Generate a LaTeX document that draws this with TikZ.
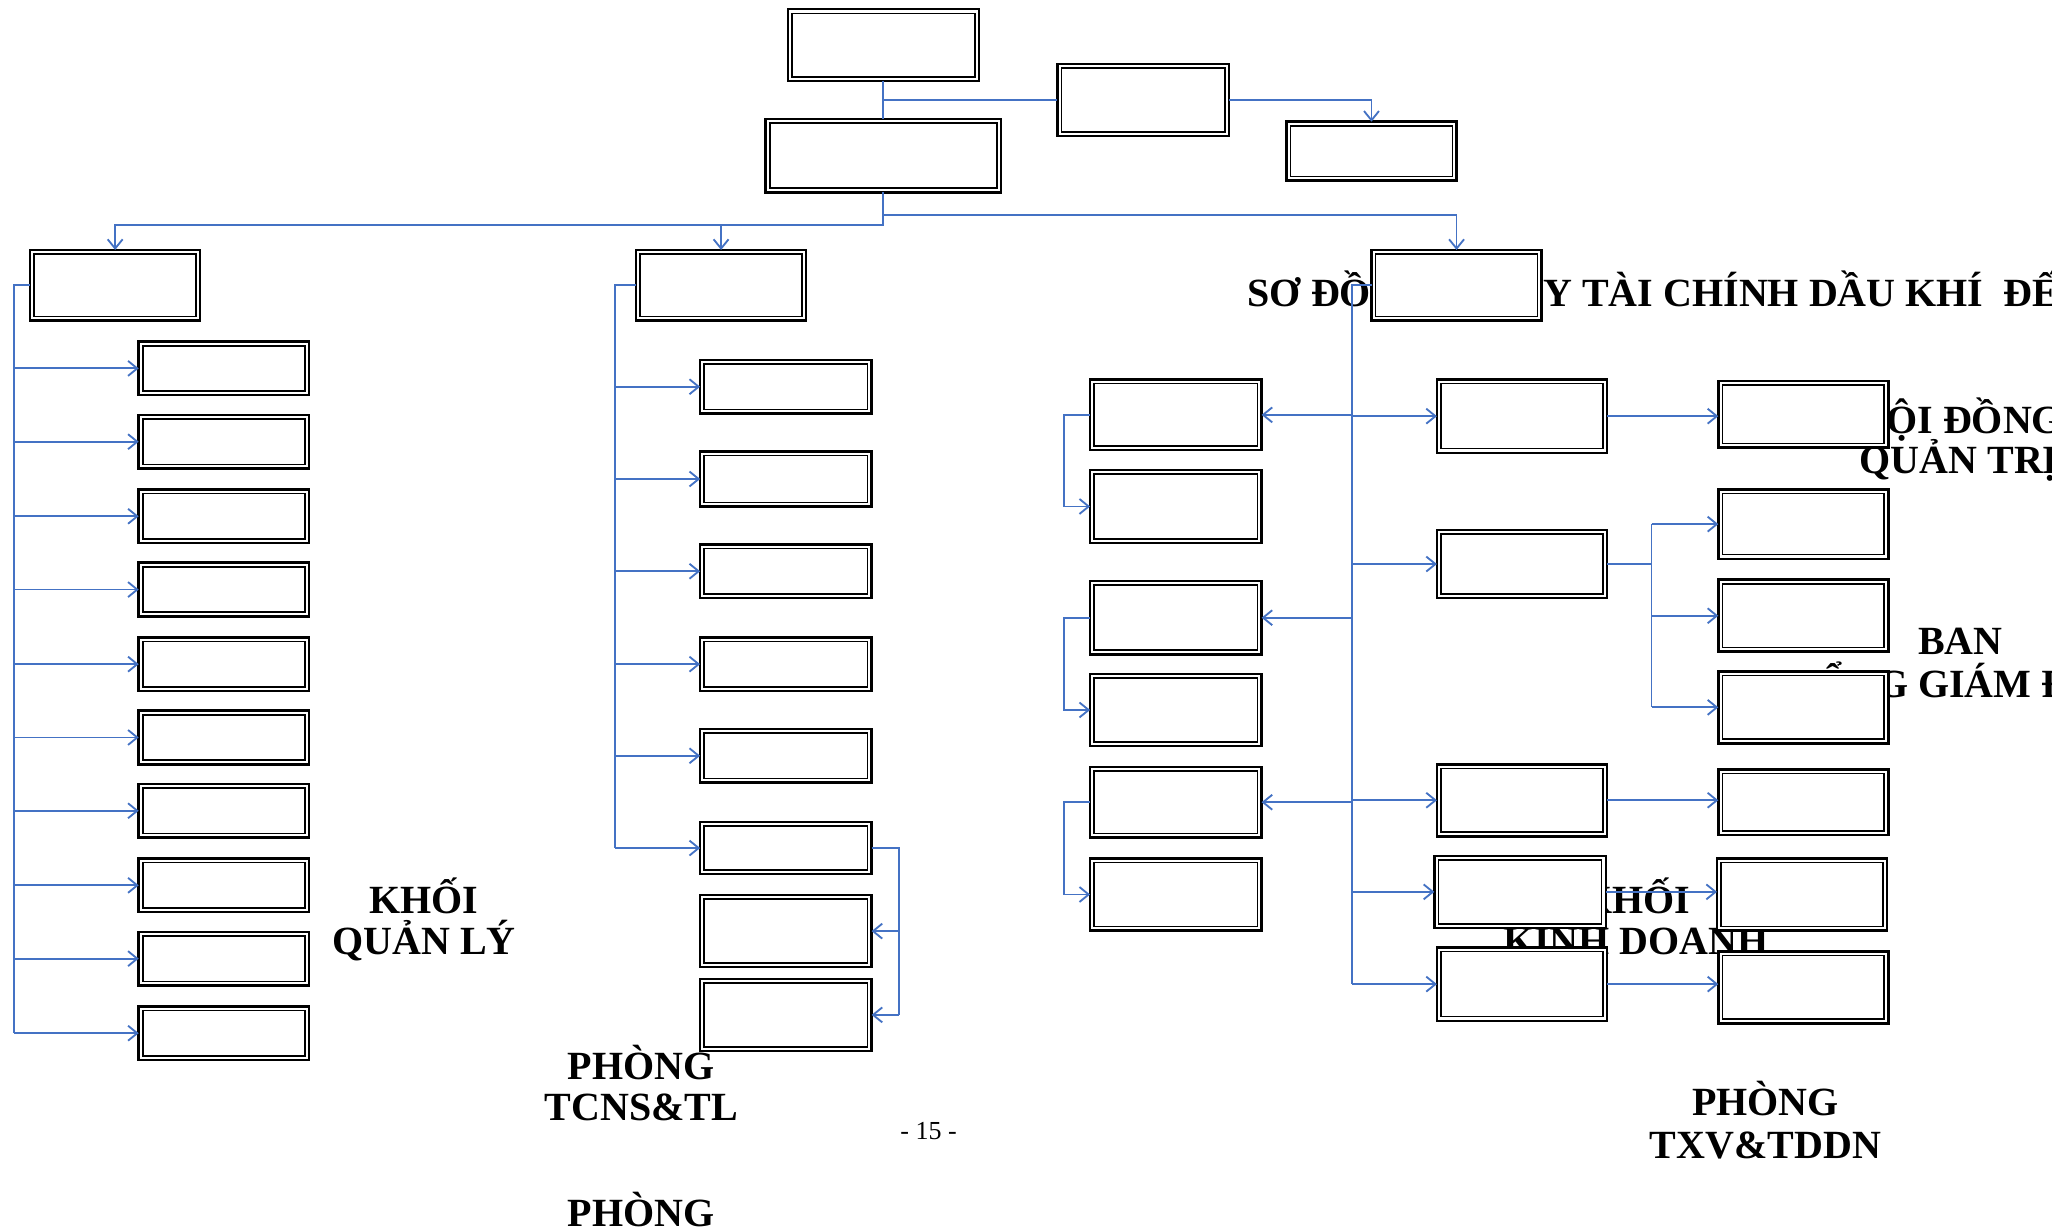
\documentclass[tikz,border=0pt]{standalone}
\usepackage{fontspec}
\setmainfont{Liberation Serif}
\usetikzlibrary{arrows.meta,calc}
\definecolor{lnblue}{HTML}{4472C4}
\newcommand\dblbox[5]{%
  \node[dbox, minimum width={(#4-#2-2)*0.02cm}, minimum height={(#5-#3-2)*0.02cm}] (#1) at ({(#2+#4)/2},{(#3+#5)/2}) {};
  \draw[inbox] ([xshift=1.8pt,yshift=-1.8pt]#1.north west) rectangle ([xshift=-1.8pt,yshift=1.8pt]#1.south east);}
\begin{document}
\begin{tikzpicture}[x=0.02cm, y=-0.02cm,
 dbox/.style={rectangle, draw=black, fill=white, line width=1.1pt, inner sep=0pt, outer sep=0pt},
 inbox/.style={draw=black, line width=0.7pt},
 conn/.style={draw=lnblue, line width=0.8pt},
 arr/.style={-{Straight Barb[length=4pt,width=6.5pt]}},
 txt/.style={font=\fontsize{17.4}{20}\selectfont\bfseries, inner sep=0pt, anchor=base},
 pgno/.style={font=\fontsize{11.3}{13}\selectfont, inner sep=0pt, anchor=base}]
\fill[white] (0,0) rectangle (1568,941);
\useasboundingbox (0,0) rectangle (1568,941);

% ---- texts (drawn first, boxes cover them) ----
\node[txt] (t1a) at (324,698) {KHỐI};
\node[txt] (t1b) at (324,729) {QUẢN LÝ};
\node[txt] (t2a) at (490,825) {PHÒNG};
\node[txt] (t2b) at (490,856) {TCNS\&TL};
\node[pgno] (pg) at (709.5,871) {- 15 -};
\node[txt] (t3a) at (490,937) {PHÒNG};
\node[txt] (t4a) at (1349,852) {PHÒNG};
\node[txt] (t4b) at (1349,885) {TXV\&TDDN};
\node[txt] (t5a) at (1250,698) {KHỐI};
\node[txt] (t5b) at (1250,729) {KINH DOANH};
\node[txt] (t6a) at (1497,331) {HỘI ĐỒNG};
\node[txt] (t6b) at (1497,362) {QUẢN TRỊ};
\node[txt] (t7a) at (1498,500) {BAN};
\node[txt] (t7b) at (1498,533) {TỔNG GIÁM ĐỐC};
\node[txt, anchor=base west] (t8a) at (953,234) {SƠ ĐỒ};
\node[txt, anchor=base west] (t8b) at (1179,234) {Y TÀI CHÍNH DẦU KHÍ~~ĐẾN};

% ---- boxes ----
\dblbox{A}{601}{6}{749}{63}
\dblbox{B}{584}{90}{766}{148}
\dblbox{C}{807}{48}{940}{105}
\dblbox{D}{982}{92}{1114}{139}
\dblbox{E}{22}{190}{154}{246}
\dblbox{F}{485}{190}{617}{246}
\dblbox{G}{1047}{190}{1179}{246}
% left column
\dblbox{L1}{105}{260}{237}{303}
\dblbox{L2}{105}{316}{237}{359}
\dblbox{L3}{105}{373}{237}{416}
\dblbox{L4}{105}{429}{237}{472}
\dblbox{L5}{105}{486}{237}{529}
\dblbox{L6}{105}{542}{237}{585}
\dblbox{L7}{105}{598}{237}{641}
\dblbox{L8}{105}{655}{237}{698}
\dblbox{L9}{105}{711}{237}{754}
\dblbox{L10}{105}{768}{237}{811}
% middle column
\dblbox{M1}{534}{274}{667}{317}
\dblbox{M2}{534}{344}{667}{388}
\dblbox{M3}{534}{415}{667}{458}
\dblbox{M4}{534}{486}{667}{529}
\dblbox{M5}{534}{556}{667}{599}
\dblbox{M6}{534}{627}{667}{669}
\dblbox{M7}{534}{683}{667}{740}
\dblbox{M8}{534}{747}{667}{804}
% right part
\dblbox{H1}{832}{289}{965}{345}
\dblbox{H2}{832}{358}{965}{416}
\dblbox{H3}{832}{443}{965}{501}
\dblbox{H4}{832}{514}{965}{571}
\dblbox{H5}{832}{585}{965}{641}
\dblbox{H6}{832}{655}{965}{712}
\dblbox{I1}{1097}{289}{1229}{347}
\dblbox{I2}{1097}{404}{1229}{458}
\dblbox{I3}{1097}{583}{1229}{640}
\dblbox{I4}{1095}{653}{1228}{710}
\dblbox{I5}{1097}{723}{1229}{781}
\dblbox{J1}{1312}{290}{1444}{343}
\dblbox{J2}{1312}{373}{1444}{428}
\dblbox{J3}{1312}{442}{1444}{499}
\dblbox{J4}{1312}{512}{1444}{569}
\dblbox{J5}{1312}{587}{1444}{639}
\dblbox{J6}{1311}{655}{1443}{712}
\dblbox{J7}{1312}{726}{1444}{783}

% ---- connectors ----
\draw[conn] (A.south) -- (B.north);
\draw[conn] (A.south |- C.west) -- (C.west);
\draw[conn,arr] (C.east) -| (D.north);
\path (B.south) ++(0,25) coordinate (jl);
\path (B.south) ++(0,17) coordinate (jr);
\draw[conn,arr] (B.south) -- (jl) -| (E.north);
\draw[conn,arr] (jr) -| (G.north);
\draw[conn,arr] (jl -| F.north) -- (F.north);

% left trunk
\path (E.west) ++(-12,0) coordinate (tl);
\draw[conn] (E.west) -- (tl) -- (tl |- L10.west);
\foreach \i in {1,...,10} {\draw[conn,arr] (tl |- L\i.west) -- (L\i.west);}

% middle trunk
\path (F.west) ++(-16,0) coordinate (tm);
\draw[conn] (F.west) -- (tm) -- (tm |- M6.west);
\foreach \i in {1,...,6} {\draw[conn,arr] (tm |- M\i.west) -- (M\i.west);}
\path (M6.east) ++(21,0) coordinate (mr);
\draw[conn] (M6.east) -- (mr) -- (mr |- M8.east);
\draw[conn,arr] (mr |- M7.east) -- (M7.east);
\draw[conn,arr] (mr |- M8.east) -- (M8.east);

% right trunk
\path (G.west) ++(-15,0) coordinate (tr);
\draw[conn] (G.west) -- (tr) -- (tr |- I5.west);
\draw[conn,arr] (tr |- H1.east) -- (H1.east);
\draw[conn,arr] (tr |- I1.west) -- (I1.west);
\draw[conn,arr] (I1.east) -- (I1.east -| J1.west);
\draw[conn,arr] (tr |- I2.west) -- (I2.west);
\path (I2.east) ++(34,0) coordinate (ir);
\draw[conn] (I2.east) -- (ir);
\draw[conn] (ir |- J2.west) -- (ir |- J4.west);
\draw[conn,arr] (ir |- J2.west) -- (J2.west);
\draw[conn,arr] (ir |- J3.west) -- (J3.west);
\draw[conn,arr] (ir |- J4.west) -- (J4.west);
\draw[conn,arr] (tr |- H3.east) -- (H3.east);
\draw[conn,arr] (tr |- H5.east) -- (H5.east);
\draw[conn,arr] (tr |- I3.west) -- (I3.west);
\draw[conn,arr] (I3.east) -- (I3.east -| J5.west);
\draw[conn,arr] (tr |- I4.west) -- (I4.west);
\draw[conn,arr] (I4.east) -- (I4.east -| J6.west);
\draw[conn,arr] (tr |- I5.west) -- (I5.west);
\draw[conn,arr] (I5.east) -- (I5.east -| J7.west);
% H loops
\draw[conn,arr] (H1.west) -- ++(-20,0) |- (H2.west);
\draw[conn,arr] (H3.west) -- ++(-20,0) |- (H4.west);
\draw[conn,arr] (H5.west) -- ++(-20,0) |- (H6.west);
\end{tikzpicture}
\end{document}
